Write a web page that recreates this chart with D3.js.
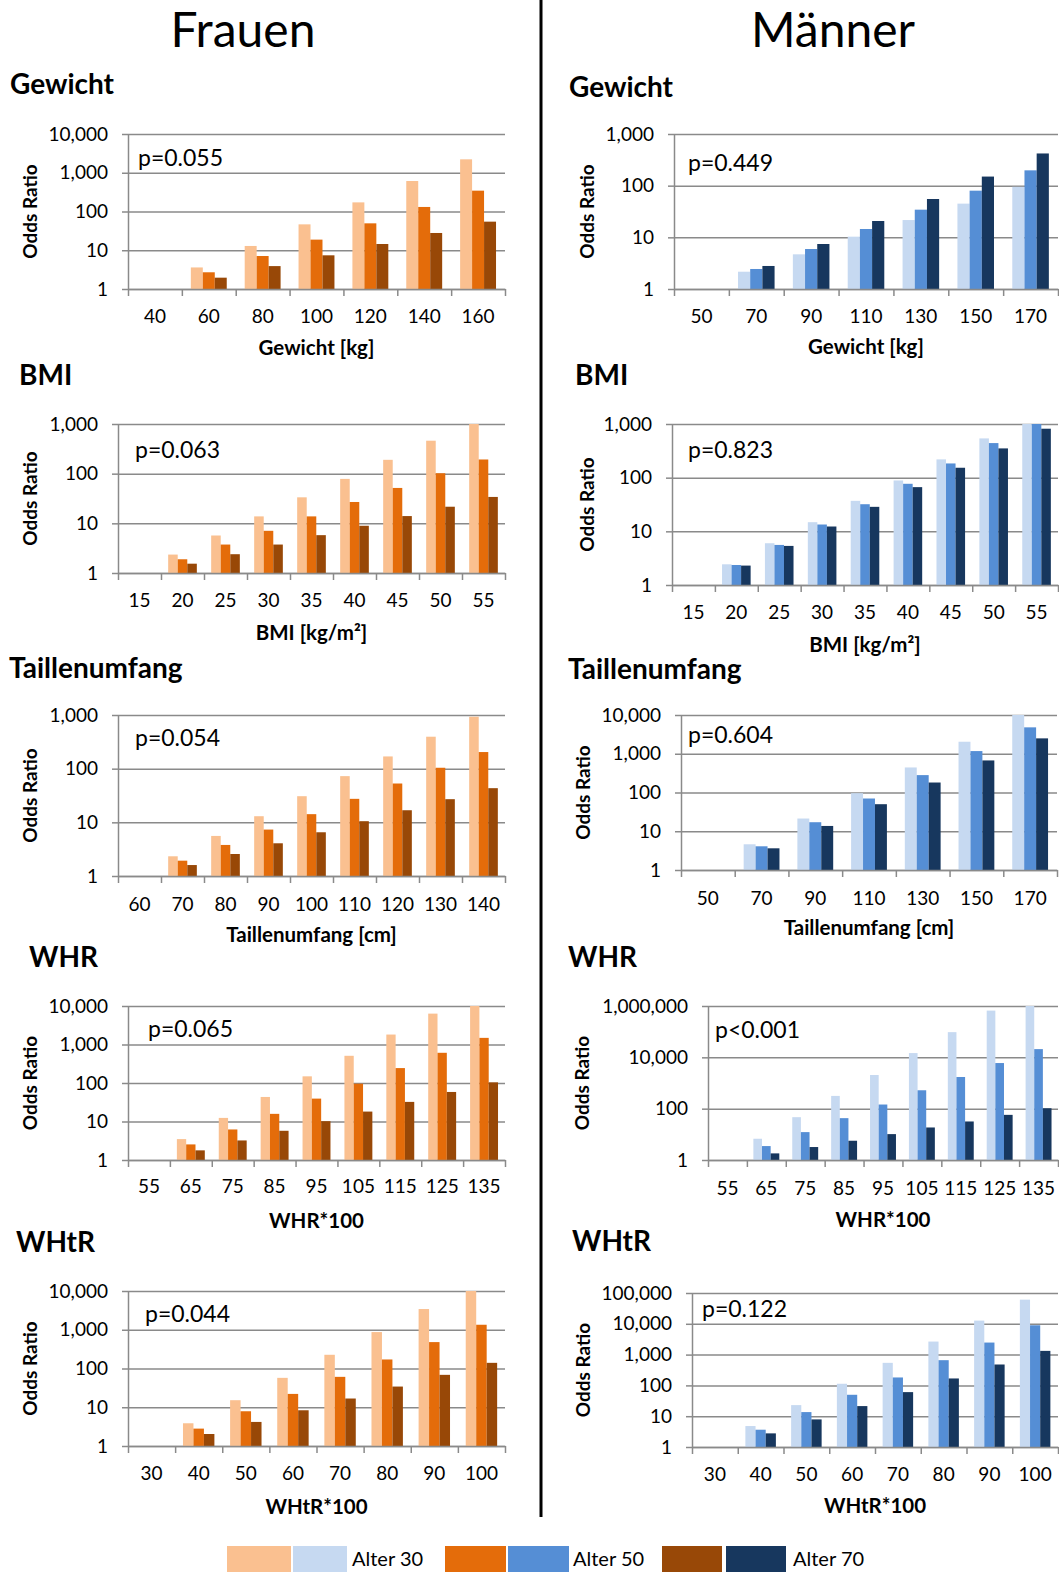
<!DOCTYPE html>
<html><head><meta charset="utf-8">
<script src="https://cdn.jsdelivr.net/npm/d3@7"></script>
<style>
body{margin:0;background:#fff}
svg{display:block}
text{font-family:Lato,'Open Sans',sans-serif;fill:#000}
</style>
</head><body>
<svg id="c" width="1059" height="1572"></svg>
<script>
// ---------- DATA ----------
const seriesNames = ["Alter 30", "Alter 50", "Alter 70"];
const femaleColors = ["#FAC090", "#E46C0A", "#984807"];
const maleColors = ["#C6D9F1", "#558ED5", "#17375E"];

// Frauen – Gewicht
const fGewichtCats = ["40","60","80","100","120","140","160"];
const fGewicht30 = [1, 3.6, 12.9, 46.6, 172, 612, 2220];
const fGewicht50 = [1, 2.7, 7.1, 18.8, 49.5, 131, 345];
const fGewicht70 = [1, 1.96, 3.9, 7.4, 14.5, 27.9, 54.7];
const fGewichtTicks = [1, 10, 100, 1000, 10000];

// Männer – Gewicht
const mGewichtCats = ["50","70","90","110","130","150","170"];
const mGewicht30 = [1, 2.16, 4.69, 10.3, 21.6, 44.9, 95];
const mGewicht50 = [1, 2.44, 5.94, 14.5, 34.3, 80, 198];
const mGewicht70 = [1, 2.79, 7.43, 20.7, 55.2, 150, 420];
const mGewichtTicks = [1, 10, 100, 1000];

// Frauen – BMI
const fBmiCats = ["15","20","25","30","35","40","45","50","55"];
const fBmi30 = [1, 2.35, 5.69, 13.8, 33.4, 78.5, 190, 461, 1000];
const fBmi50 = [1, 1.89, 3.74, 7.07, 13.8, 26.9, 51.6, 102, 193];
const fBmi70 = [1, 1.54, 2.39, 3.74, 5.78, 8.93, 14.0, 21.6, 34];
const fBmiTicks = [1, 10, 100, 1000];

// Männer – BMI
const mBmiCats = ["15","20","25","30","35","40","45","50","55"];
const mBmi30 = [1, 2.43, 6.0, 14.8, 37, 88.7, 219, 539, 1000];
const mBmi50 = [1, 2.36, 5.58, 13.4, 32, 76.9, 184, 441, 1000];
const mBmi70 = [1, 2.30, 5.35, 12.3, 28.6, 66.6, 153, 351, 817];
const mBmiTicks = [1, 10, 100, 1000];

// Frauen – Taillenumfang
const fTailleCats = ["60","70","80","90","100","110","120","130","140"];
const fTaille30 = [1, 2.33, 5.58, 13.0, 30.7, 72.6, 169, 394, 929];
const fTaille50 = [1, 1.93, 3.79, 7.33, 14.2, 27.4, 52.9, 104, 204];
const fTaille70 = [1, 1.60, 2.57, 4.07, 6.53, 10.5, 16.8, 27.0, 43.3];
const fTailleTicks = [1, 10, 100, 1000];

// Männer – Taillenumfang
const mTailleCats = ["50","70","90","110","130","150","170"];
const mTaille30 = [1, 4.61, 21.3, 96, 443, 2042, 10000];
const mTaille50 = [1, 4.09, 17.1, 70, 281, 1172, 4800];
const mTaille70 = [1, 3.63, 13.7, 49.9, 181, 672, 2494];
const mTailleTicks = [1, 10, 100, 1000, 10000];

// Frauen – WHR
const fWhrCats = ["55","65","75","85","95","105","115","125","135"];
const fWhr30 = [1, 3.49, 12.4, 43.4, 149, 509, 1814, 6340, 10000];
const fWhr50 = [1, 2.54, 6.21, 15.8, 39.3, 96, 244, 609, 1487];
const fWhr70 = [1, 1.78, 3.22, 5.74, 10.2, 18.1, 32.3, 58.5, 104];
const fWhrTicks = [1, 10, 100, 1000, 10000];

// Männer – WHR
const mWhrCats = ["55","65","75","85","95","105","115","125","135"];
const mWhr30 = [1, 6.73, 46.6, 314, 2050, 14650, 95700, 662000, 1000000];
const mWhr50 = [1, 3.49, 12.2, 42.7, 145, 521, 1714, 5990, 20900];
const mWhr70 = [1, 1.81, 3.2, 5.63, 10.2, 18.5, 31.7, 57.4, 104];
const mWhrTicks = [1, 100, 10000, 1000000];

// Frauen – WHtR
const fWhtrCats = ["30","40","50","60","70","80","90","100"];
const fWhtr30 = [1, 3.86, 15.2, 57.4, 226, 871, 3423, 10000];
const fWhtr50 = [1, 2.81, 7.88, 22.1, 60.9, 171, 480, 1346];
const fWhtr70 = [1, 2.04, 4.18, 8.36, 16.8, 34.2, 68.6, 140];
const fWhtrTicks = [1, 10, 100, 1000, 10000];

// Männer – WHtR
const mWhtrCats = ["30","40","50","60","70","80","90","100"];
const mWhtr30 = [1, 4.79, 22.9, 113, 540, 2650, 12700, 60800];
const mWhtr50 = [1, 3.64, 13.6, 49.6, 181, 659, 2460, 8960];
const mWhtr70 = [1, 2.77, 7.87, 21.3, 60.5, 168, 477, 1321];
const mWhtrTicks = [1, 10, 100, 1000, 10000, 100000];

const panels = [
  {title:"Gewicht", xTitle:"Gewicht [kg]", p:"p=0.055", cats:fGewichtCats, series:[fGewicht30,fGewicht50,fGewicht70], ticks:fGewichtTicks, colors:femaleColors},
  {title:"Gewicht", xTitle:"Gewicht [kg]", p:"p=0.449", cats:mGewichtCats, series:[mGewicht30,mGewicht50,mGewicht70], ticks:mGewichtTicks, colors:maleColors},
  {title:"BMI", xTitle:"BMI [kg/m²]", p:"p=0.063", cats:fBmiCats, series:[fBmi30,fBmi50,fBmi70], ticks:fBmiTicks, colors:femaleColors},
  {title:"BMI", xTitle:"BMI [kg/m²]", p:"p=0.823", cats:mBmiCats, series:[mBmi30,mBmi50,mBmi70], ticks:mBmiTicks, colors:maleColors},
  {title:"Taillenumfang", xTitle:"Taillenumfang [cm]", p:"p=0.054", cats:fTailleCats, series:[fTaille30,fTaille50,fTaille70], ticks:fTailleTicks, colors:femaleColors},
  {title:"Taillenumfang", xTitle:"Taillenumfang [cm]", p:"p=0.604", cats:mTailleCats, series:[mTaille30,mTaille50,mTaille70], ticks:mTailleTicks, colors:maleColors},
  {title:"WHR", xTitle:"WHR*100", p:"p=0.065", cats:fWhrCats, series:[fWhr30,fWhr50,fWhr70], ticks:fWhrTicks, colors:femaleColors},
  {title:"WHR", xTitle:"WHR*100", p:"p<0.001", cats:mWhrCats, series:[mWhr30,mWhr50,mWhr70], ticks:mWhrTicks, colors:maleColors},
  {title:"WHtR", xTitle:"WHtR*100", p:"p=0.044", cats:fWhtrCats, series:[fWhtr30,fWhtr50,fWhtr70], ticks:fWhtrTicks, colors:femaleColors},
  {title:"WHtR", xTitle:"WHtR*100", p:"p=0.122", cats:mWhtrCats, series:[mWhtr30,mWhtr50,mWhtr70], ticks:mWhtrTicks, colors:maleColors}
];

// ---------- LAYOUT ----------
const layouts = [
  {l:128, r:505,  t:134,  b:289,  px:138, py:166,  yt:30,  xl:34, xt:66, tx:10,  ty:94},
  {l:674, r:1058, t:134,  b:289,  px:688, py:171,  yt:587, xl:34, xt:65, tx:569, ty:97},
  {l:118, r:505,  t:424,  b:573,  px:135, py:458,  yt:30,  xl:34, xt:67, tx:19,  ty:385},
  {l:672, r:1058, t:424,  b:585,  px:688, py:458,  yt:587, xl:34, xt:67, tx:575, ty:385},
  {l:118, r:505,  t:715,  b:876,  px:135, py:746,  yt:30,  xl:35, xt:66, tx:9,   ty:678},
  {l:681, r:1057, t:715,  b:870,  px:688, py:743,  yt:583, xl:35, xt:65, tx:568, ty:679},
  {l:128, r:505,  t:1006, b:1160, px:148, py:1037, yt:30,  xl:33, xt:68, tx:29,  ty:967},
  {l:708, r:1058, t:1006, b:1160, px:715, py:1038, yt:582, xl:35, xt:67, tx:568, ty:967},
  {l:128, r:505,  t:1291, b:1446, px:145, py:1322, yt:30,  xl:34, xt:68, tx:16,  ty:1252},
  {l:692, r:1058, t:1293, b:1447, px:702, py:1317, yt:583, xl:34, xt:66, tx:572, ty:1251}
];
const labelGap = 20;

const svg = d3.select("#c");
const gridColor = "#8a8a8a";

// headers
svg.append("text").attr("x", 243).attr("y", 47).attr("text-anchor","middle").style("font-size","48px").text("Frauen");
svg.append("text").attr("x", 833).attr("y", 47).attr("text-anchor","middle").style("font-size","48px").text("Männer");
svg.append("line").attr("x1",541).attr("x2",541).attr("y1",0).attr("y2",1517).attr("stroke","#000").attr("stroke-width",3);

panels.forEach((cfg, i) => {
  const L = layouts[i];
  const g = svg.append("g");
  const x = d3.scaleBand().domain(cfg.cats).range([L.l, L.r]).padding(0);
  const xs = d3.scaleBand().domain([0,1,2]).range([0, x.bandwidth()]).paddingInner(0).paddingOuter(0.75);
  const y = d3.scaleLog().domain([1, cfg.ticks[cfg.ticks.length-1]]).range([L.b, L.t]).clamp(true);
  const w = L.r - L.l;

  // section title
  g.append("text").attr("x", L.tx).attr("y", L.ty).style("font-size","28px").style("font-weight","700").text(cfg.title);

  // gridlines
  const grid = g.append("g").attr("transform", `translate(${L.l},0)`)
    .call(d3.axisRight(y).tickValues(cfg.ticks).tickSize(w).tickFormat(""));
  grid.select(".domain").remove();
  grid.selectAll("line").attr("stroke", gridColor).attr("stroke-width", 1.5);

  // y axis with labels
  const ya = g.append("g").attr("transform", `translate(${L.l},0)`)
    .call(d3.axisLeft(y).tickValues(cfg.ticks).tickSize(6).tickSizeOuter(0).tickPadding(labelGap - 6).tickFormat(d3.format(",")));
  ya.select(".domain").attr("stroke", gridColor).attr("stroke-width", 1.5);
  ya.selectAll("line").attr("stroke", gridColor).attr("stroke-width", 1.5);
  ya.selectAll("text").style("font-size","19px").attr("fill","#000");

  // bars
  cfg.series.forEach((vals, si) => {
    g.append("g").selectAll("rect")
      .data(cfg.cats.map((c, k) => ({c, v: vals[k]})))
      .join("rect")
      .attr("x", d => x(d.c) + xs(si))
      .attr("width", xs.bandwidth())
      .attr("y", d => y(d.v))
      .attr("height", d => L.b - y(d.v))
      .attr("fill", cfg.colors[si]);
  });

  // x axis: boundary ticks
  const xb = d3.scaleLinear().domain([0, cfg.cats.length]).range([L.l, L.r]);
  const xa = g.append("g").attr("transform", `translate(0,${L.b})`)
    .call(d3.axisBottom(xb).tickValues(d3.range(cfg.cats.length + 1)).tickSize(7).tickSizeOuter(0).tickFormat(""));
  xa.selectAll("line").attr("stroke", gridColor).attr("stroke-width", 1.5);
  xa.select(".domain").attr("stroke", gridColor).attr("stroke-width", 1.5);

  // x labels
  const xl = g.append("g").attr("transform", `translate(0,${L.b})`)
    .call(d3.axisBottom(x).tickSize(0));
  xl.select(".domain").remove();
  xl.selectAll("text").style("font-size","19px").attr("fill","#000").attr("dy","0").attr("y", L.xl);

  // x axis title
  g.append("text").attr("x", (L.l + L.r) / 2).attr("y", L.b + L.xt).attr("text-anchor","middle")
    .style("font-size","20.5px").style("font-weight","700").text(cfg.xTitle);

  // y title
  g.append("text").attr("transform", `translate(${L.yt},${(L.t + L.b) / 2}) rotate(-90)`)
    .attr("text-anchor","middle").attr("dy","0.35em")
    .style("font-size","19px").style("font-weight","700").text("Odds Ratio");

  // p value
  g.append("text").attr("x", L.px).attr("y", L.py).style("font-size","23px").text(cfg.p);
});

// legend
const legend = [
  {fc:femaleColors[0], mc:maleColors[0], f:[227,291], m:[293,347], tx:352},
  {fc:femaleColors[1], mc:maleColors[1], f:[445,506], m:[508,569], tx:573},
  {fc:femaleColors[2], mc:maleColors[2], f:[662,722], m:[726,786], tx:793}
];
legend.forEach((d, i) => {
  svg.append("rect").attr("x", d.f[0]).attr("y", 1546).attr("width", d.f[1]-d.f[0]).attr("height", 26).attr("fill", d.fc);
  svg.append("rect").attr("x", d.m[0]).attr("y", 1546).attr("width", d.m[1]-d.m[0]).attr("height", 26).attr("fill", d.mc);
  svg.append("text").attr("x", d.tx).attr("y", 1566).style("font-size","20px").text(seriesNames[i]);
});
</script>
</body></html>
